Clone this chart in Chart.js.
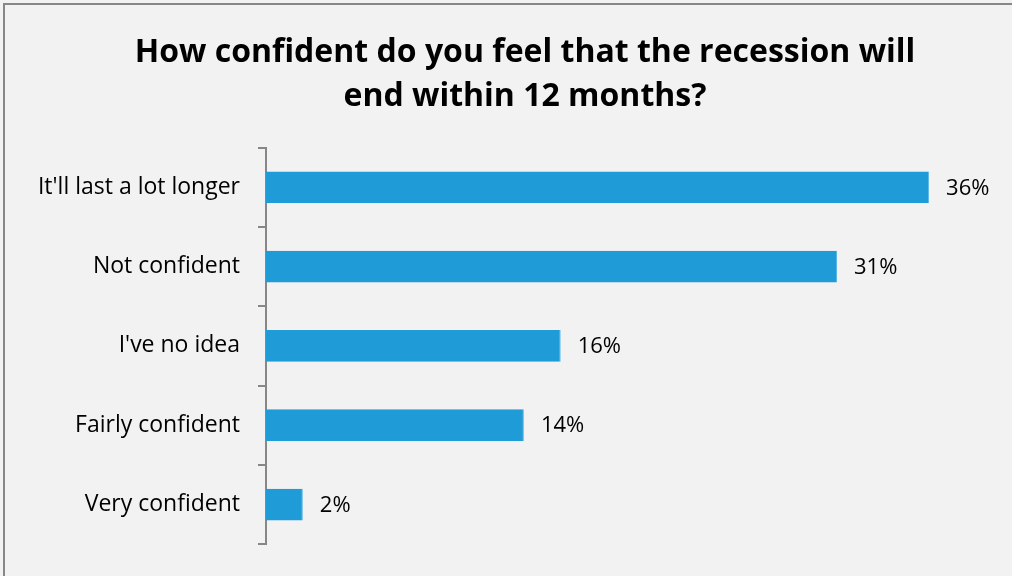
<!DOCTYPE html>
<html lang="en">
  <head>
    <meta charset="UTF-8" />
    <title>Recession confidence</title>
    <style>
      body {
        margin: 0;
        background: #f2f2f2;
      }
      .chart-container {
        position: relative;
        width: 1012px;
        height: 576px;
      }
    </style>
  </head>
  <body>
    <div class="chart-container">
      <canvas id="confidenceChart"></canvas>
    </div>
    <script src="https://cdn.jsdelivr.net/npm/chart.js"></script>
    <script>
      const answers = [
        "It'll last a lot longer",
        "Not confident",
        "I've no idea",
        "Fairly confident",
        "Very confident",
      ];
      const shares = [36, 31, 16, 14, 2];
      const titleLines = [
        "How confident do you feel that the recession will",
        "end within 12 months?",
      ];

      const fontFamily = "'Open Sans', sans-serif";

      // background panel plus the frame along the top and left edges
      const framePlugin = {
        id: "frame",
        beforeDraw(chart) {
          const ctx = chart.ctx;
          ctx.save();
          ctx.fillStyle = "#f2f2f2";
          ctx.fillRect(0, 0, chart.width, chart.height);
          ctx.strokeStyle = "#878787";
          ctx.lineWidth = 2;
          ctx.beginPath();
          ctx.moveTo(4, chart.height);
          ctx.lineTo(4, 4);
          ctx.lineTo(chart.width, 4);
          ctx.stroke();
          ctx.restore();
        },
      };

      // percentage labels to the right of each bar
      const valueLabels = {
        id: "valueLabels",
        afterDatasetsDraw(chart) {
          const ctx = chart.ctx;
          const meta = chart.getDatasetMeta(0);
          ctx.save();
          ctx.font = "22px " + fontFamily;
          ctx.fillStyle = "#000";
          ctx.textBaseline = "middle";
          meta.data.forEach((bar, i) => {
            ctx.fillText(shares[i] + "%", bar.x + 17, bar.y + 1);
          });
          ctx.restore();
        },
      };

      new Chart(document.getElementById("confidenceChart"), {
        type: "bar",
        data: {
          labels: answers,
          datasets: [
            {
              data: shares,
              backgroundColor: "#1f9bd7",
              borderColor: "#5bb8e6",
              borderWidth: { right: 1 },
              borderSkipped: "left",
              categoryPercentage: 1,
              barPercentage: 0.4,
            },
          ],
        },
        options: {
          indexAxis: "y",
          responsive: true,
          maintainAspectRatio: false,
          animation: false,
          // negative right padding pushes the title a little right of centre
          layout: { padding: { left: 28, right: -10, bottom: 28 } },
          plugins: {
            legend: { display: false },
            tooltip: { enabled: false },
            title: {
              display: true,
              text: titleLines,
              color: "#000",
              font: { family: fontFamily, size: 32, weight: "bold", lineHeight: 1.4 },
              padding: { top: 30, bottom: 28 },
            },
          },
          scales: {
            x: {
              display: false,
              min: 0,
              max: 40.5,
            },
            y: {
              afterFit(scale) {
                scale.width = 238;
              },
              grid: {
                offset: true,
                drawOnChartArea: false,
                color: "#878787",
                lineWidth: 2,
                tickLength: 8,
              },
              border: { color: "#878787", width: 2 },
              ticks: {
                color: "#000",
                padding: 18,
                font: { family: fontFamily, size: 23 },
              },
            },
          },
        },
        plugins: [framePlugin, valueLabels],
      });
    </script>
  </body>
</html>
